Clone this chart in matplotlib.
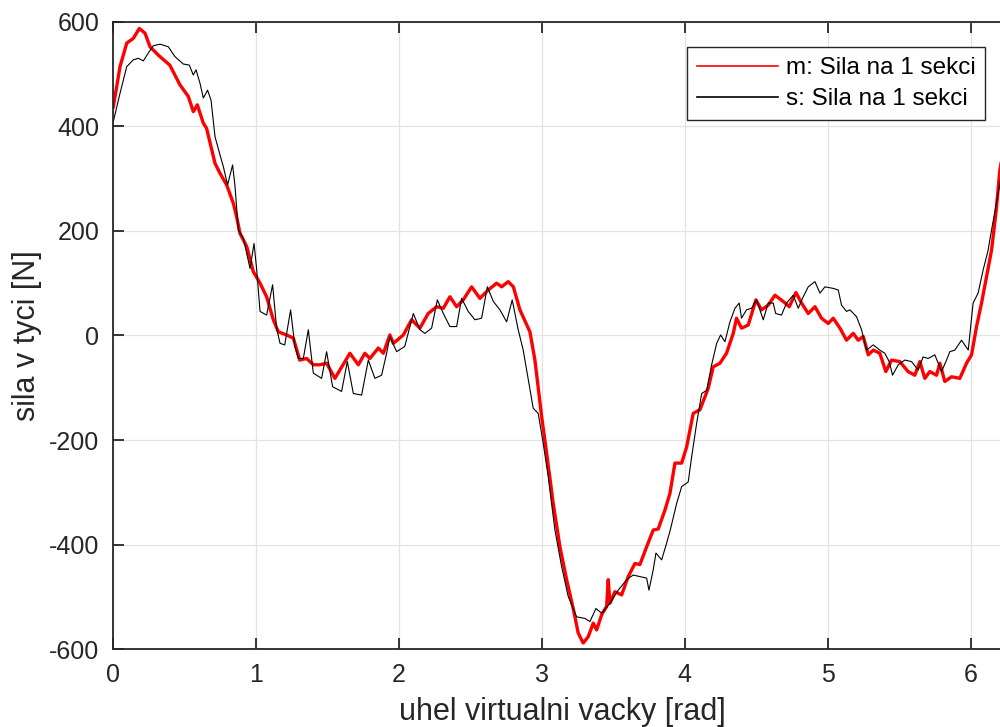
import matplotlib
matplotlib.use("Agg")
import matplotlib.pyplot as plt
import numpy as np

plt.rcParams['font.family'] = ['Liberation Sans', 'DejaVu Sans']
plt.rcParams['axes.unicode_minus'] = False

# m: Sila na 1 sekci (red)
m_x = [0, 0.047, 0.094, 0.14, 0.182, 0.222, 0.257, 0.315, 0.395, 0.467, 0.525, 0.56, 0.588, 0.63, 0.653,
       0.712, 0.747, 0.793, 0.84, 0.863, 0.887, 0.934, 0.98, 1.027, 1.073, 1.12, 1.155, 1.213, 1.26, 1.305,
       1.353, 1.4, 1.446, 1.493, 1.551, 1.586, 1.656, 1.715, 1.761, 1.796, 1.855, 1.89, 1.936, 1.96, 2.03,
       2.088, 2.146, 2.204, 2.263, 2.31, 2.356, 2.403, 2.449, 2.508, 2.566, 2.624, 2.683, 2.718, 2.764, 2.8,
       2.846, 2.916, 2.951, 2.998, 3.033, 3.079, 3.126, 3.173, 3.219, 3.254, 3.289, 3.324, 3.359, 3.383, 3.418,
       3.453, 3.464, 3.476, 3.511, 3.558, 3.604, 3.651, 3.686, 3.733, 3.779, 3.814, 3.861, 3.896, 3.931, 3.978,
       4.013, 4.059, 4.106, 4.164, 4.199, 4.246, 4.292, 4.339, 4.362, 4.397, 4.444, 4.498, 4.537, 4.584, 4.631,
       4.689, 4.731, 4.778, 4.817, 4.864, 4.911, 4.957, 5.004, 5.039, 5.086, 5.132, 5.179, 5.214, 5.249, 5.284,
       5.319, 5.365, 5.407, 5.447, 5.505, 5.563, 5.61, 5.645, 5.68, 5.715, 5.762, 5.785, 5.82, 5.867, 5.925,
       5.972, 6.007, 6.042, 6.077, 6.112, 6.147, 6.18, 6.205, 6.283]
m_y = [437, 514, 559, 568, 587, 578, 552, 536, 517, 479, 457, 428, 441, 406, 396,
       329, 310, 288, 253, 227, 195, 170, 122, 100, 74, 30, 7, 1, -5, -47,
       -44, -56, -56, -53, -82, -66, -34, -56, -34, -44, -24, -34, 1, -15, 1,
       30, 14, 42, 55, 52, 74, 55, 68, 93, 71, 87, 100, 93, 103, 93,
       49, 7, -47, -155, -225, -321, -404, -467, -522, -569, -588, -576, -550, -563, -534,
       -518, -467, -512, -490, -496, -461, -436, -438, -404, -372, -370, -334, -302, -244, -244,
       -213, -149, -142, -101, -60, -53, -34, 4, 33, 14, 20, 68, 49, 58, 77,
       65, 55, 82, 62, 42, 55, 33, 23, 33, 14, -9, 4, -9, -2, -37,
       -28, -34, -69, -47, -50, -69, -76, -50, -82, -69, -76, -53, -88, -79, -82,
       -53, -37, 17, 62, 112, 163, 240, 316, 437]

# s: Sila na 1 sekci (black)
s_x = [0, 0.047, 0.094, 0.14, 0.175, 0.21, 0.245, 0.28, 0.327, 0.385, 0.432, 0.49, 0.532, 0.56, 0.579,
       0.607, 0.63, 0.66, 0.684, 0.712, 0.747, 0.77, 0.8, 0.835, 0.852, 0.875, 0.91, 0.957, 0.985, 1.004,
       1.027, 1.073, 1.115, 1.143, 1.167, 1.2, 1.241, 1.271, 1.295, 1.33, 1.365, 1.4, 1.458, 1.493, 1.535,
       1.598, 1.638, 1.68, 1.738, 1.785, 1.831, 1.878, 1.913, 1.936, 1.983, 2.04, 2.1, 2.146, 2.181, 2.228,
       2.268, 2.31, 2.356, 2.403, 2.438, 2.484, 2.531, 2.578, 2.618, 2.66, 2.706, 2.753, 2.792, 2.834, 2.869,
       2.939, 2.974, 3.009, 3.044, 3.091, 3.138, 3.184, 3.243, 3.301, 3.336, 3.378, 3.418, 3.476, 3.534, 3.593,
       3.639, 3.686, 3.733, 3.749, 3.779, 3.798, 3.838, 3.873, 3.901, 3.943, 3.978, 4.024, 4.048, 4.083, 4.118,
       4.153, 4.188, 4.223, 4.251, 4.281, 4.316, 4.351, 4.381, 4.397, 4.432, 4.467, 4.502, 4.549, 4.584, 4.619,
       4.636, 4.677, 4.712, 4.759, 4.794, 4.829, 4.864, 4.911, 4.946, 4.981, 5.039, 5.074, 5.097, 5.132, 5.156,
       5.202, 5.237, 5.272, 5.319, 5.365, 5.4, 5.431, 5.454, 5.494, 5.54, 5.587, 5.634, 5.668, 5.703, 5.75,
       5.797, 5.832, 5.855, 5.89, 5.937, 5.984, 6.018, 6.053, 6.088, 6.123, 6.135, 6.193, 6.283]
s_y = [409, 463, 514, 527, 530, 525, 540, 554, 557, 552, 533, 519, 517, 498, 508,
       482, 454, 469, 450, 380, 345, 323, 288, 326, 285, 202, 186, 128, 176, 125,
       46, 39, 97, 14, -15, -18, 49, -21, -44, -44, 11, -72, -82, -31, -98,
       -107, -50, -111, -114, -47, -82, -76, -34, -2, -31, -21, 42, 11, 4, 14,
       68, 42, 17, 17, 71, 46, 30, 33, 93, 65, 49, 26, 68, 11, -28,
       -139, -149, -206, -270, -372, -442, -499, -538, -541, -547, -522, -531, -512, -487, -467,
       -458, -461, -464, -487, -448, -416, -429, -397, -369, -321, -289, -280, -232, -168, -111,
       -105, -56, -15, 1, -12, 26, 52, 62, 33, 49, 52, 68, 30, 62, 62,
       42, 39, 62, 77, 52, 74, 93, 103, 81, 93, 90, 87, 58, 46, 49,
       36, 11, -28, -18, -28, -34, -50, -76, -56, -47, -50, -66, -41, -44, -37,
       -69, -47, -31, -28, -9, -28, 62, 81, 125, 163, 183, 272, 409]

fig = plt.figure(figsize=(10, 7.27), dpi=100)
ax = fig.add_axes([0.1133, 0.1069, 0.8977, 0.8633])

ax.plot(m_x, m_y, color='red', lw=2.4, label='m: Sila na 1 sekci')
ax.plot(s_x, s_y, color='black', lw=0.8, label='s: Sila na 1 sekci')

ax.set_xlim(0, 2 * np.pi)
ax.set_ylim(-600, 600)
ax.set_xticks([0, 1, 2, 3, 4, 5, 6])
ax.set_yticks([-600, -400, -200, 0, 200, 400, 600])
ax.grid(True, color='#e3e3e3', lw=0.9)
ax.set_axisbelow(True)

dark = '#262626'
for s in ax.spines.values():
    s.set_color(dark)
    s.set_linewidth(1.3)
ax.tick_params(direction='in', length=8, width=1.3, colors=dark, labelsize=18,
               top=True, right=True, pad=10)

ax.set_xlabel('uhel virtualni vacky [rad]', fontsize=22, color=dark, labelpad=7)
ax.set_ylabel('sila v tyci [N]', fontsize=22, color=dark, labelpad=5)

leg = ax.legend(loc='upper right', bbox_to_anchor=(0.985, 1 - 47.3 / 727),
                bbox_transform=fig.transFigure, borderaxespad=0, fontsize=17.5,
                fancybox=False, framealpha=1, edgecolor=dark, handlelength=3.35,
                handletextpad=0.3, borderpad=0.4, labelspacing=0.38)
leg.get_frame().set_linewidth(1.0)
for h in leg.get_lines():
    h.set_linewidth(1.2)

fig.savefig('out.png', dpi=100)
